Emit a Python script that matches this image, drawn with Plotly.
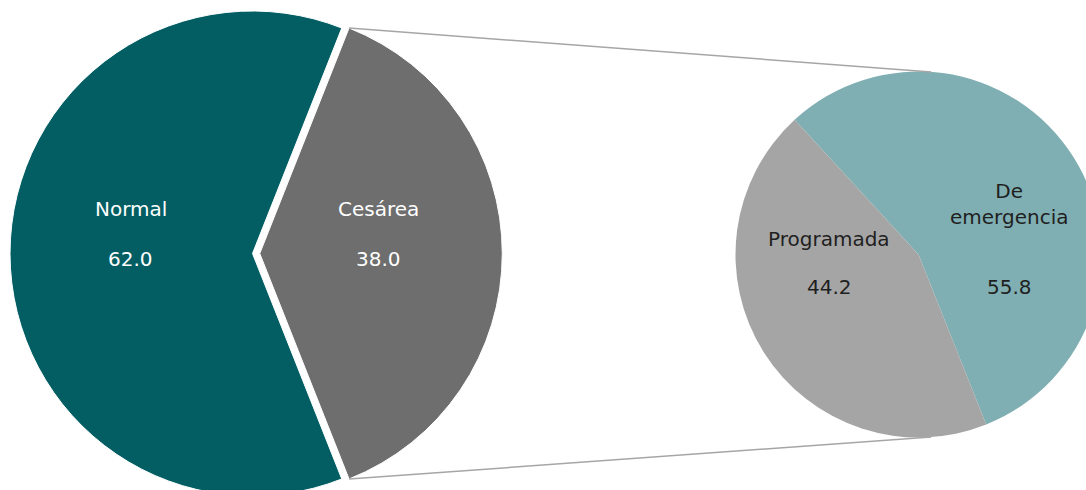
import plotly.graph_objects as go

# ---------------- data ----------------
main_labels = ["Cesárea", "Normal"]
main_values = [38.0, 62.0]
sub_labels = ["De emergencia", "Programada"]
sub_values = [55.8, 44.2]

# ---------------- style / layout ----------------
W, H = 1110, 510
main_colors = ["#6E6E6E", "#025E63"]
sub_colors = ["#80AFB3", "#A5A5A5"]
main_text_color = "white"
sub_text_color = "#1F1F1F"
FONT = "DejaVu Sans"
FSIZE = 20

# pie geometry in pixels
L_CX, L_CY, L_R, PULL = 252.5, 253.5, 242.5, 0.03
R_CX, R_CY, R_R = 918.5, 254.5, 183.0
R_ROT = -42.6


def clamp(v):
    return max(0.0, min(1.0, v))


def px_domain(cx, cy, half):
    return dict(x=[clamp((cx - half) / W), clamp((cx + half) / W)],
                y=[clamp((H - (cy + half)) / H), clamp((H - (cy - half)) / H)])


total_main = sum(main_values)
l_rot = 90 - main_values[0] / total_main * 180

fig = go.Figure()
fig.add_trace(go.Pie(
    labels=main_labels, values=main_values, sort=False, direction="clockwise",
    rotation=l_rot, pull=[PULL, 0], textinfo="none", hoverinfo="skip",
    marker=dict(colors=main_colors, line=dict(color="white", width=1)),
    domain=px_domain(L_CX, L_CY, L_R * (1 + PULL)), showlegend=False,
))
fig.add_trace(go.Pie(
    labels=sub_labels, values=sub_values, sort=False, direction="clockwise",
    rotation=R_ROT, textinfo="none", hoverinfo="skip",
    marker=dict(colors=sub_colors, line=dict(width=0)),
    domain=px_domain(R_CX, R_CY, R_R), showlegend=False,
))

# text anchor points (pixels)
main_label_pos = [(378.5, 209), (130.5, 209)]
main_value_pos = [(378.0, 259), (130.0, 259)]
sub_label_pos = [(1009, 204), (828.5, 239)]
sub_value_pos = [(1009, 287), (829, 287)]

annotations = []


def add_text(txt, pos, color):
    annotations.append(dict(
        text=txt, x=pos[0] / W, y=(H - pos[1]) / H, xref="paper", yref="paper",
        xanchor="center", yanchor="middle", showarrow=False, align="center",
        font=dict(family=FONT, size=FSIZE, color=color)))


for lab, val, lp, vp in zip(main_labels, main_values, main_label_pos, main_value_pos):
    add_text(lab.replace(" ", "<br>"), lp, main_text_color)
    add_text(f"{val:.1f}", vp, main_text_color)
for lab, val, lp, vp in zip(sub_labels, sub_values, sub_label_pos, sub_value_pos):
    add_text(lab.replace(" ", "<br>"), lp, sub_text_color)
    add_text(f"{val:.1f}", vp, sub_text_color)

# connector lines from the pulled slice edges to the secondary pie
import math
half_ang = main_values[0] / total_main * 180
pcx = L_CX + PULL * L_R
shapes = []
for sgn in (-1, 1):
    a = math.radians(90 + sgn * half_ang)
    x0 = pcx + L_R * math.sin(a)
    y0 = L_CY - L_R * math.cos(a)
    b = math.radians(90 + sgn * 86)
    x1 = R_CX + R_R * math.sin(b)
    y1 = R_CY - R_R * math.cos(b)
    shapes.append(dict(type="line", xref="paper", yref="paper",
                       x0=x0 / W, y0=(H - y0) / H, x1=x1 / W, y1=(H - y1) / H,
                       line=dict(color="#A6A6A6", width=1.5)))

fig.update_layout(
    width=W, height=H, margin=dict(l=0, r=0, t=0, b=0),
    paper_bgcolor="white", plot_bgcolor="white",
    annotations=annotations, shapes=shapes,
    font=dict(family=FONT, size=FSIZE),
)

fig.write_html(
    "out.html",
    config={"displayModeBar": False},
    post_script="document.body.style.margin='0';document.body.style.overflow='hidden';",
)
